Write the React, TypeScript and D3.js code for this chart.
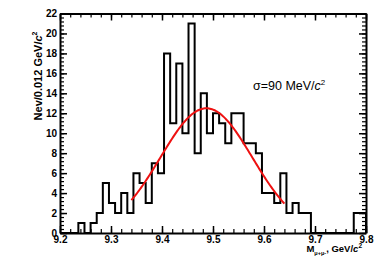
import { useRef, useEffect } from 'react';
import * as d3 from 'd3';

// histogram: 50 bins of 0.012 GeV from 9.2 to 9.8
const binLow = 9.2;
const binWidth = 0.012;
const counts = [
  0, 0, 0, 1, 0, 1, 2, 5, 3, 2,
  4, 2, 6, 5, 3, 7, 6, 18, 11, 17,
  10, 21, 8, 14, 10, 12, 11, 9, 12, 12,
  9, 9, 8, 4, 4, 3, 6, 2, 3, 2,
  2, 0, 0, 0, 0, 0, 0, 0, 2, 2,
];

const xTicks = [9.2, 9.3, 9.4, 9.5, 9.6, 9.7, 9.8];
const yTicks = [0, 2, 4, 6, 8, 10, 12, 14, 16, 18, 20, 22];

// gaussian fit drawn over its fit range
const fitMean = 9.487;
const fitSigma = 0.09;
const fitAmp = 12.5;
const fitRange = [9.34, 9.64];

const width = 374;
const height = 268;
const frame = { left: 60, right: 366, top: 13.5, bottom: 233 };
const font = 'Liberation Sans, Arial, Helvetica, sans-serif';

function Histogram() {
  const ref = useRef<SVGSVGElement>(null);

  useEffect(() => {
    if (!ref.current) return;
    const svg = d3.select(ref.current);
    svg.selectAll('*').remove();

    const x = d3.scaleLinear().domain([9.2, 9.8]).range([frame.left, frame.right]);
    const y = d3.scaleLinear().domain([0, 22]).range([frame.bottom, frame.top]);

    const minorX = d3.range(9.2, 9.8001, 0.02);
    const minorY = d3.range(0, 22.001, 0.4);

    const styleAxis = (g: any, labels: boolean) => {
      g.select('.domain').attr('stroke-width', 2).attr('stroke', '#000');
      g.selectAll('.tick line').attr('stroke-width', 1.5).attr('stroke', '#000');
      g.selectAll('text')
        .attr('font-family', font)
        .attr('font-weight', 'bold')
        .attr('font-size', 10)
        .attr('fill', '#000');
      if (!labels) g.selectAll('text').remove();
    };

    // histogram outline
    const pts: [number, number][] = [[binLow, 0]];
    counts.forEach((c, i) => pts.push([binLow + i * binWidth, c]));
    pts.push([binLow + counts.length * binWidth, counts[counts.length - 1]]);
    pts.push([binLow + counts.length * binWidth, 0]);
    const step = d3
      .line<[number, number]>()
      .x((d) => x(d[0]))
      .y((d) => y(d[1]))
      .curve(d3.curveStepAfter);
    svg
      .append('path')
      .datum(pts)
      .attr('fill', 'none')
      .attr('stroke', '#000')
      .attr('stroke-width', 2)
      .attr('d', step);

    // fit curve
    const fitPts = d3
      .range(fitRange[0], fitRange[1] + 1e-9, 0.002)
      .map((m) => [m, fitAmp * Math.exp(-((m - fitMean) ** 2) / (2 * fitSigma ** 2))] as [number, number]);
    svg
      .append('path')
      .datum(fitPts)
      .attr('fill', 'none')
      .attr('stroke', '#ee1111')
      .attr('stroke-width', 2)
      .attr(
        'd',
        d3
          .line<[number, number]>()
          .x((d) => x(d[0]))
          .y((d) => y(d[1]))
      );

    // minor ticks on all sides
    const minor = [
      { axis: d3.axisBottom(x).tickValues(minorX), t: `translate(0,${frame.bottom})` },
      { axis: d3.axisTop(x).tickValues(minorX), t: `translate(0,${frame.top})` },
      { axis: d3.axisLeft(y).tickValues(minorY), t: `translate(${frame.left},0)` },
      { axis: d3.axisRight(y).tickValues(minorY), t: `translate(${frame.right},0)` },
    ];
    minor.forEach(({ axis, t }) => {
      const g = svg
        .append('g')
        .attr('transform', t)
        .call(axis.tickSizeInner(-4).tickSizeOuter(0).tickFormat(() => ''));
      g.select('.domain').remove();
      g.selectAll('.tick line').attr('stroke-width', 1.2);
    });

    // major axes (frame)
    svg
      .append('g')
      .attr('transform', `translate(0,${frame.bottom})`)
      .call(d3.axisBottom(x).tickValues(xTicks).tickSizeInner(-7).tickSizeOuter(0).tickPadding(2.5).tickFormat(d3.format('.1f')))
      .call((g) => styleAxis(g, true));
    svg
      .append('g')
      .attr('transform', `translate(0,${frame.top})`)
      .call(d3.axisTop(x).tickValues(xTicks).tickSizeInner(-7).tickSizeOuter(0))
      .call((g) => styleAxis(g, false));
    svg
      .append('g')
      .attr('transform', `translate(${frame.left},0)`)
      .call(d3.axisLeft(y).tickValues(yTicks).tickSizeInner(-7).tickSizeOuter(0).tickPadding(3))
      .call((g) => styleAxis(g, true));
    svg
      .append('g')
      .attr('transform', `translate(${frame.right},0)`)
      .call(d3.axisRight(y).tickValues(yTicks).tickSizeInner(-7).tickSizeOuter(0))
      .call((g) => styleAxis(g, false));

    // y title
    const yt = svg
      .append('text')
      .attr('transform', `translate(41.5,${frame.top + 18}) rotate(-90)`)
      .attr('text-anchor', 'end')
      .attr('font-family', font)
      .attr('font-weight', 'bold')
      .attr('font-size', 11);
    yt.append('tspan').text('Nev/0.012 GeV/');
    yt.append('tspan').attr('font-style', 'italic').text('c');
    yt.append('tspan').attr('dy', -4.5).attr('font-size', 7).text('2');

    // x title
    const xt = svg
      .append('text')
      .attr('x', 362)
      .attr('y', 252)
      .attr('text-anchor', 'end')
      .attr('font-family', font)
      .attr('font-weight', 'bold')
      .attr('font-size', 9.5);
    xt.append('tspan').text('M');
    xt.append('tspan').attr('dy', 2.5).attr('font-size', 5.5).text('\u03bc+\u03bc-');
    xt.append('tspan').attr('dy', -2.5).text(', GeV/');
    xt.append('tspan').attr('font-style', 'italic').text('c');
    xt.append('tspan').attr('dy', -4.5).attr('font-size', 6.5).text('2');

    // sigma label
    const st = svg
      .append('text')
      .attr('x', 253)
      .attr('y', 90)
      .attr('font-family', font)
      .attr('font-size', 12.5);
    st.append('tspan').text('\u03c3=90 MeV/');
    st.append('tspan').attr('font-style', 'italic').text('c');
    st.append('tspan').attr('dy', -5).attr('font-size', 8).text('2');
  }, []);

  return (
    <svg
      ref={ref}
      width={width}
      height={height}
      style={{ position: 'absolute', left: 0, top: 0, background: '#fff' }}
    />
  );
}

export default function App() {
  return <Histogram />;
}
